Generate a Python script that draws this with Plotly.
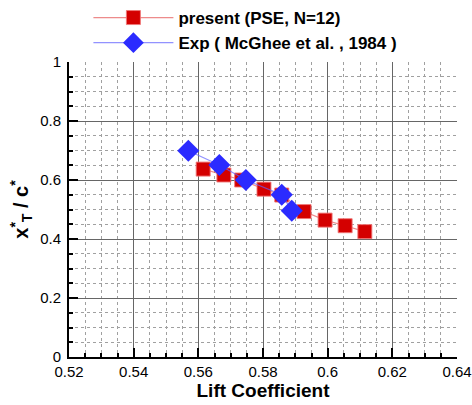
import plotly.graph_objects as go

# Data
present_cl = [0.5615, 0.5679, 0.5734, 0.5803, 0.5858, 0.5927, 0.5992, 0.6054, 0.6115]
present_xt = [0.637, 0.617, 0.600, 0.569, 0.549, 0.493, 0.464, 0.445, 0.425]
exp_cl = [0.5569, 0.5665, 0.5747, 0.5858, 0.5889]
exp_xt = [0.699, 0.651, 0.600, 0.550, 0.496]

x_ticks = [0.52, 0.54, 0.56, 0.58, 0.6, 0.62, 0.64]
x_labels = ["0.52", "0.54", "0.56", "0.58", "0.6", "0.62", "0.64"]
y_ticks = [0, 0.2, 0.4, 0.6, 0.8, 1]
y_labels = ["0", "0.2", "0.4", "0.6", "0.8", "1"]

FONT = "Liberation Sans, Arial, sans-serif"

fig = go.Figure()
fig.add_trace(go.Scatter(
    x=present_cl, y=present_xt, mode="lines+markers",
    name="present (PSE, N=12)",
    line=dict(color="rgba(230,90,90,0.7)", width=1.2),
    marker=dict(symbol="square", size=14, color="#D40000",
                line=dict(color="rgba(240,120,120,0.9)", width=1)),
))
fig.add_trace(go.Scatter(
    x=exp_cl, y=exp_xt, mode="lines+markers",
    name="Exp ( McGhee et al. , 1984 )",
    line=dict(color="rgba(100,100,255,0.7)", width=1.2),
    marker=dict(symbol="diamond", size=17, color="#2B2BFF",
                line=dict(color="#2B2BFF", width=0)),
))

axis_common = dict(
    showline=True, linecolor="black", linewidth=2, mirror=False,
    ticks="inside", ticklen=9, tickwidth=1.5, tickcolor="black",
    showgrid=True, gridcolor="#666666", gridwidth=1.3,
    tickfont=dict(family=FONT, size=15, color="black"),
    zeroline=False, automargin=False,
)

fig.update_xaxes(
    range=[0.52, 0.64], tickvals=x_ticks, ticktext=x_labels,
    ticklabelstandoff=0,
    title=dict(text="<b>Lift Coefficient</b>", font=dict(family=FONT, size=19, color="black"), standoff=0),
    minor=dict(dtick=0.005, ticks="inside", ticklen=4, tickcolor="black", showgrid=True,
               gridcolor="#a0a0a0", griddash="dot", gridwidth=1),
    **axis_common,
)
fig.update_yaxes(
    range=[0, 1], tickvals=y_ticks, ticktext=y_labels,
    ticklabelstandoff=3,
    title=dict(text="<b>x<sup>*</sup><sub>T</sub> / c<sup>*</sup></b>", font=dict(family=FONT, size=20, color="black"), standoff=6),
    minor=dict(dtick=0.05, ticks="inside", ticklen=4, tickcolor="black", showgrid=True,
               gridcolor="#a0a0a0", griddash="dot", gridwidth=1),
    **axis_common,
)

fig.update_layout(
    width=472, height=405,
    margin=dict(l=69, r=15, t=62, b=48, autoexpand=False),
    paper_bgcolor="white", plot_bgcolor="white",
    showlegend=True,
    legend=dict(
        x=0.05, y=1.0, xref="paper", yref="container", xanchor="left", yanchor="top",
        font=dict(family=FONT, size=17, color="black", weight="bold"),
        bgcolor="rgba(0,0,0,0)", itemwidth=80, tracegroupgap=0,
    ),
)

fig.write_html("out.html")
